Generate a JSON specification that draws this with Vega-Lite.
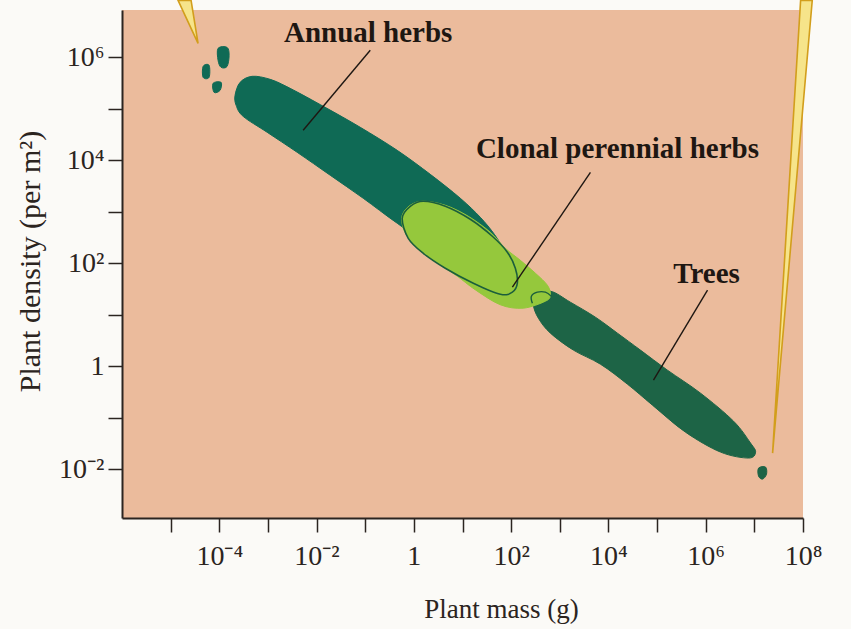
{
  "$schema": "https://vega.github.io/schema/vega-lite/v6.json",
  "width": 681,
  "height": 508,
  "autosize": {"type": "none"},
  "padding": {"left": 122, "top": 10, "right": 48, "bottom": 111},
  "background": "#fbfaf7",
  "config": {"view": {"fill": "#ebbb9c", "stroke": null}, "font": "Liberation Serif"},
  "datasets": {
    "annual": [
      {"i": 1, "mass": 2.11e-4, "density": 1.83e5},
      {"i": 2, "mass": 2.68e-4, "density": 3.27e5},
      {"i": 3, "mass": 4.73e-4, "density": 4.28e5},
      {"i": 4, "mass": 1.11e-3, "density": 3.74e5},
      {"i": 5, "mass": 2.86e-3, "density": 2.50e5},
      {"i": 6, "mass": 1.50e-2, "density": 1.07e5},
      {"i": 7, "mass": 7.89e-2, "density": 4.38e4},
      {"i": 8, "mass": 0.455, "density": 1.56e4},
      {"i": 9, "mass": 2.17, "density": 5346},
      {"i": 10, "mass": 9.02, "density": 1828},
      {"i": 11, "mass": 23.2, "density": 782},
      {"i": 12, "mass": 45.1, "density": 366},
      {"i": 13, "mass": 72.4, "density": 179},
      {"i": 14, "mass": 96.4, "density": 100},
      {"i": 15, "mass": 60.0, "density": 66.8},
      {"i": 16, "mass": 3.49, "density": 164},
      {"i": 17, "mass": 0.455, "density": 598},
      {"i": 18, "mass": 0.091, "density": 1828},
      {"i": 19, "mass": 0.0191, "density": 5117},
      {"i": 20, "mass": 3.99e-3, "density": 1.43e4},
      {"i": 21, "mass": 9.64e-4, "density": 3.50e4},
      {"i": 22, "mass": 3.09e-4, "density": 7.14e4},
      {"i": 23, "mass": 2.22e-4, "density": 1.17e5}
    ],
    "specks": [
      {"b": "A", "i": 1, "mass": 9.44e-5, "density": 1.496e6},
      {"b": "A", "i": 2, "mass": 1.445e-4, "density": 1.563e6},
      {"b": "A", "i": 3, "mass": 1.592e-4, "density": 1.094e6},
      {"b": "A", "i": 4, "mass": 1.445e-4, "density": 6.68e5},
      {"b": "A", "i": 5, "mass": 1.089e-4, "density": 6.40e5},
      {"b": "A", "i": 6, "mass": 9.44e-5, "density": 8.75e5},
      {"b": "B", "i": 1, "mass": 4.65e-5, "density": 6.68e5},
      {"b": "B", "i": 2, "mass": 6.17e-5, "density": 7.0e5},
      {"b": "B", "i": 3, "mass": 6.17e-5, "density": 4.09e5},
      {"b": "B", "i": 4, "mass": 4.65e-5, "density": 4.09e5},
      {"b": "C", "i": 1, "mass": 7.45e-5, "density": 3.13e5},
      {"b": "C", "i": 2, "mass": 1.089e-4, "density": 3.27e5},
      {"b": "C", "i": 3, "mass": 1.038e-4, "density": 2.29e5},
      {"b": "C", "i": 4, "mass": 7.82e-5, "density": 2.09e5}
    ],
    "trees": [
      {"b": "main", "i": 1, "mass": 315, "density": 22.9},
      {"b": "main", "i": 2, "mass": 641, "density": 28.6},
      {"b": "main", "i": 3, "mass": 1652, "density": 17.5},
      {"b": "main", "i": 4, "mass": 5408, "density": 8.93},
      {"b": "main", "i": 5, "mass": 15311, "density": 4.38},
      {"b": "main", "i": 6, "mass": 45500, "density": 2.05},
      {"b": "main", "i": 7, "mass": 163700, "density": 0.836},
      {"b": "main", "i": 8, "mass": 781600, "density": 0.299},
      {"b": "main", "i": 9, "mass": 3.73e6, "density": 0.0855},
      {"b": "main", "i": 10, "mass": 8.36e6, "density": 0.032},
      {"b": "main", "i": 11, "mass": 1.06e7, "density": 0.0214},
      {"b": "main", "i": 12, "mass": 7.60e6, "density": 0.0164},
      {"b": "main", "i": 13, "mass": 2.02e6, "density": 0.0214},
      {"b": "main", "i": 14, "mass": 3.84e5, "density": 0.0522},
      {"b": "main", "i": 15, "mass": 80350, "density": 0.175},
      {"b": "main", "i": 16, "mass": 24600, "density": 0.447},
      {"b": "main", "i": 17, "mass": 6840, "density": 1.094},
      {"b": "main", "i": 18, "mass": 1905, "density": 2.05},
      {"b": "main", "i": 19, "mass": 641, "density": 4.38},
      {"b": "main", "i": 20, "mass": 363, "density": 8.55},
      {"b": "main", "i": 21, "mass": 286, "density": 15.3},
      {"b": "dot", "i": 1, "mass": 1.22e7, "density": 0.01045},
      {"b": "dot", "i": 2, "mass": 1.70e7, "density": 0.01094},
      {"b": "dot", "i": 3, "mass": 1.78e7, "density": 0.0080},
      {"b": "dot", "i": 4, "mass": 1.48e7, "density": 0.0064},
      {"b": "dot", "i": 5, "mass": 1.22e7, "density": 0.0073}
    ],
    "clonal": [
      {"i": 1, "mass": 0.577, "density": 855},
      {"i": 2, "mass": 0.843, "density": 1337},
      {"i": 3, "mass": 1.56, "density": 1600},
      {"i": 4, "mass": 4.43, "density": 1337},
      {"i": 5, "mass": 13.15, "density": 818},
      {"i": 6, "mass": 37.3, "density": 400},
      {"i": 7, "mass": 76.0, "density": 195},
      {"i": 8, "mass": 154.5, "density": 114},
      {"i": 9, "mass": 315, "density": 64.0},
      {"i": 10, "mass": 556, "density": 37.4},
      {"i": 11, "mass": 641, "density": 23.9},
      {"i": 12, "mass": 506, "density": 18.3},
      {"i": 13, "mass": 178, "density": 13.4},
      {"i": 14, "mass": 60.0, "density": 15.6},
      {"i": 15, "mass": 18.3, "density": 30.5},
      {"i": 16, "mass": 7.82, "density": 56.0},
      {"i": 17, "mass": 3.49, "density": 93.0},
      {"i": 18, "mass": 1.56, "density": 158},
      {"i": 19, "mass": 0.843, "density": 280},
      {"i": 20, "mass": 0.605, "density": 479}
    ],
    "outline": [
      {"i": 1, "mass": 0.577, "density": 748},
      {"i": 2, "mass": 0.843, "density": 1279},
      {"i": 3, "mass": 1.56, "density": 1600},
      {"i": 4, "mass": 4.43, "density": 1279},
      {"i": 5, "mass": 14.45, "density": 714},
      {"i": 6, "mass": 41.0, "density": 334},
      {"i": 7, "mass": 83.6, "density": 164},
      {"i": 8, "mass": 122, "density": 80.0},
      {"i": 9, "mass": 134, "density": 40.9},
      {"i": 10, "mass": 106, "density": 27.4},
      {"i": 11, "mass": 60.0, "density": 25.0},
      {"i": 12, "mass": 16.7, "density": 40.9},
      {"i": 13, "mass": 4.43, "density": 80.0},
      {"i": 14, "mass": 1.56, "density": 156},
      {"i": 15, "mass": 0.767, "density": 305}
    ],
    "loop": [
      {"i": 1, "mass": 273, "density": 16.7},
      {"i": 2, "mass": 261, "density": 22.9},
      {"i": 3, "mass": 346, "density": 27.4},
      {"i": 4, "mass": 506, "density": 27.4},
      {"i": 5, "mass": 671, "density": 22.9}
    ],
    "pointers": [
      {"label": "Annual herbs", "mass": 0.127, "density": 1.37e6, "mass2": 5.30e-3, "density2": 3.83e4},
      {"label": "Clonal perennial herbs", "mass": 4266, "density": 5848, "mass2": 106, "density2": 34.2},
      {"label": "Trees", "mass": 1.09e6, "density": 29.9, "mass2": 84300, "density2": 0.535}
    ],
    "labels": [
      {"label": "Annual herbs", "mass": 0.115, "density": 1.95e6},
      {"label": "Clonal perennial herbs", "mass": 1.53e4, "density": 1.094e4},
      {"label": "Trees", "mass": 1.04e6, "density": 40.9}
    ],
    "beams": [
      {"b": "left", "i": 1, "mass": 1.42e-5, "density": 1.28e7},
      {"b": "left", "i": 2, "mass": 2.63e-5, "density": 1.28e7},
      {"b": "left", "i": 3, "mass": 3.66e-5, "density": 1.87e6},
      {"b": "right", "i": 1, "mass": 8.93e7, "density": 1.28e7},
      {"b": "right", "i": 2, "mass": 1.55e8, "density": 1.28e7},
      {"b": "right", "i": 3, "mass": 2.37e7, "density": 0.0205}
    ]
  },
  "encoding": {
    "x": {
      "field": "mass",
      "type": "quantitative",
      "scale": {"type": "log", "domain": [1e-6, 1e8], "nice": false},
      "axis": {
        "values": [1e-5, 1e-4, 1e-3, 1e-2, 1e-1, 1, 10, 100, 1e3, 1e4, 1e5, 1e6, 1e7, 1e8],
        "labelExpr": "round(log(datum.value)/LN10) == -4 ? '10⁻⁴' : round(log(datum.value)/LN10) == -2 ? '10⁻²' : round(log(datum.value)/LN10) == 0 ? '1' : round(log(datum.value)/LN10) == 2 ? '10²' : round(log(datum.value)/LN10) == 4 ? '10⁴' : round(log(datum.value)/LN10) == 6 ? '10⁶' : round(log(datum.value)/LN10) == 8 ? '10⁸' : ''",
        "title": "Plant mass (g)",
        "grid": false,
        "domainColor": "#2b2420",
        "domainWidth": 2,
        "tickColor": "#2b2420",
        "tickWidth": 1.5,
        "tickSize": 14,
        "labelFont": "Liberation Serif",
        "labelFontSize": 28,
        "labelColor": "#2b2420",
        "labelPadding": 10,
        "labelFlush": false,
        "labelOverlap": false,
        "titleFont": "Liberation Serif",
        "titleFontSize": 27,
        "titleFontWeight": "normal",
        "titleColor": "#2b2420",
        "titleX": 379,
        "titleY": 99,
        "titleBaseline": "alphabetic"
      }
    },
    "y": {
      "field": "density",
      "type": "quantitative",
      "scale": {"type": "log", "domain": [1.122e-3, 8.32e6], "nice": false},
      "axis": {
        "values": [1e-2, 1e-1, 1, 10, 100, 1e3, 1e4, 1e5, 1e6],
        "labelExpr": "round(log(datum.value)/LN10) == -2 ? '10⁻²' : round(log(datum.value)/LN10) == 0 ? '1' : round(log(datum.value)/LN10) == 2 ? '10²' : round(log(datum.value)/LN10) == 4 ? '10⁴' : round(log(datum.value)/LN10) == 6 ? '10⁶' : ''",
        "title": "Plant density (per m²)",
        "grid": false,
        "domainColor": "#2b2420",
        "domainWidth": 2,
        "tickColor": "#2b2420",
        "tickWidth": 1.5,
        "tickSize": 14,
        "labelFont": "Liberation Serif",
        "labelFontSize": 28,
        "labelColor": "#2b2420",
        "labelPadding": 4,
        "labelFlush": false,
        "labelOverlap": false,
        "titleFont": "Liberation Serif",
        "titleFontSize": 30,
        "titleFontWeight": "normal",
        "titleColor": "#2b2420",
        "titleAngle": -90,
        "titleX": -92,
        "titleY": 251,
        "titleAlign": "center",
        "titleBaseline": "middle"
      }
    }
  },
  "layer": [
    {
      "data": {"name": "annual"},
      "mark": {"type": "line", "interpolate": "cardinal-closed", "filled": true, "fill": "#0f6a55", "stroke": "#0f6a55", "strokeWidth": 1, "clip": false},
      "encoding": {"order": {"field": "i", "type": "quantitative"}}
    },
    {
      "data": {"name": "specks"},
      "mark": {"type": "line", "interpolate": "cardinal-closed", "filled": true, "fill": "#0f6a55", "stroke": "#0f6a55", "strokeWidth": 1, "clip": false},
      "encoding": {"order": {"field": "i", "type": "quantitative"}, "detail": {"field": "b", "type": "nominal"}}
    },
    {
      "data": {"name": "trees"},
      "mark": {"type": "line", "interpolate": "cardinal-closed", "filled": true, "fill": "#1d6446", "stroke": "#1d6446", "strokeWidth": 1, "clip": false},
      "encoding": {"order": {"field": "i", "type": "quantitative"}, "detail": {"field": "b", "type": "nominal"}}
    },
    {
      "data": {"name": "clonal"},
      "mark": {"type": "line", "interpolate": "cardinal-closed", "filled": true, "fill": "#95c83c", "stroke": "#95c83c", "strokeWidth": 1, "clip": false},
      "encoding": {"order": {"field": "i", "type": "quantitative"}}
    },
    {
      "data": {"name": "outline"},
      "mark": {"type": "line", "interpolate": "cardinal-closed", "stroke": "#1b5e3c", "strokeWidth": 1.6, "clip": false},
      "encoding": {"order": {"field": "i", "type": "quantitative"}}
    },
    {
      "data": {"name": "loop"},
      "mark": {"type": "line", "interpolate": "cardinal", "stroke": "#1b5e3c", "strokeWidth": 1.4, "clip": false},
      "encoding": {"order": {"field": "i", "type": "quantitative"}}
    },
    {
      "data": {"name": "pointers"},
      "mark": {"type": "rule", "color": "#1e1712", "strokeWidth": 1.4, "clip": false},
      "encoding": {
        "x2": {"field": "mass2"},
        "y2": {"field": "density2"}
      }
    },
    {
      "data": {"name": "labels"},
      "mark": {"type": "text", "font": "Liberation Serif", "fontSize": 29, "fontWeight": "bold", "color": "#1e1712", "align": "center", "baseline": "alphabetic", "clip": false},
      "encoding": {"text": {"field": "label", "type": "nominal"}}
    },
    {
      "data": {"name": "beams"},
      "mark": {"type": "line", "interpolate": "linear-closed", "filled": true, "fill": "#f6e48a", "stroke": "#d29e1c", "strokeWidth": 1.6, "clip": false},
      "encoding": {"order": {"field": "i", "type": "quantitative"}, "detail": {"field": "b", "type": "nominal"}}
    }
  ]
}
